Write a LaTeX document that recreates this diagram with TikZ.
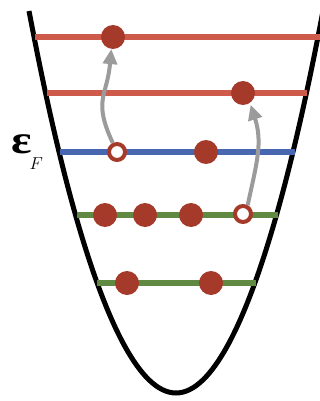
\documentclass[tikz,border=0pt]{standalone}
\usepackage{fontspec}
\usetikzlibrary{arrows.meta}
\newfontfamily\lvgreek{Liberation Serif}
\definecolor{lvRed}{HTML}{CD5A4B}
\definecolor{lvBlue}{HTML}{4867B0}
\definecolor{lvGreen}{HTML}{608A42}
\definecolor{lvElec}{HTML}{A5392A}
\definecolor{lvGray}{HTML}{9B9B9B}
\tikzset{
  lv-line/.style={line width=6.5pt},
  lv-red/.style={lv-line, draw=lvRed},
  lv-blue/.style={lv-line, draw=lvBlue},
  lv-green/.style={lv-line, draw=lvGreen},
  lv-full/.style={circle, fill=lvElec, minimum size=24pt, inner sep=0pt},
  lv-hole/.style={circle, draw=lvElec, line width=4pt, fill=white,
    minimum size=16pt, inner sep=0pt},
  lv-hop/.style={-{Triangle[length=15pt,width=14pt]}, line width=4pt,
    draw=lvGray},
  lv-well/.style={line width=5pt, draw=black}
}

\begin{document}
\begin{tikzpicture}[x=1pt, y=1pt]
\useasboundingbox (0,0) rectangle (320,-401);
\clip (0,0) rectangle (320,-401);

% --- Potentialtopf ---
\draw[lv-well] (29,-11) parabola bend (176,-393) (323,-11);

% --- Niveaus ---
\draw[lv-red] (35,-37) -- (320,-37);
\draw[lv-red] (47,-93) -- (307,-93);
\draw[lv-blue] (60,-152) -- (295,-152);
\draw[lv-green] (77,-215) -- (278,-215);
\draw[lv-green] (97,-283) -- (256,-283);

% --- Elektronen ---
\node[lv-full] (up1) at (113,-37) {};
\node[lv-full] (up2) at (243,-93) {};
\node[lv-hole] (hole1) at (117,-152) {};
\node[lv-full] (fermi2) at (206,-152) {};
\node[lv-full] (mid1) at (105,-215) {};
\node[lv-full] (mid2) at (145,-215) {};
\node[lv-full] (mid3) at (191,-215) {};
\node[lv-hole] (hole2) at (243,-214) {};
\node[lv-full] (low1) at (127,-283) {};
\node[lv-full] (low2) at (211,-283) {};

% --- Fermi-Energie ---
\node[anchor=base west, inner sep=0pt] (ef) at (11,-153)
  {\fontsize{40}{40}\lvgreek\bfseries\scalebox{1.2}[1]{ε}%
   \hspace{-2pt}\raisebox{-17pt}{\fontsize{19}{19}\selectfont$F$}};

% --- Anregungen ---
\draw[lv-hop] (hole1.115) to[out=115, in=-95, looseness=1.3] (up1.-98);
\draw[lv-hop, shorten >=2pt] (hole2.62) to[out=78, in=-72, looseness=1.05] (up2.-55);
\end{tikzpicture}
\end{document}
